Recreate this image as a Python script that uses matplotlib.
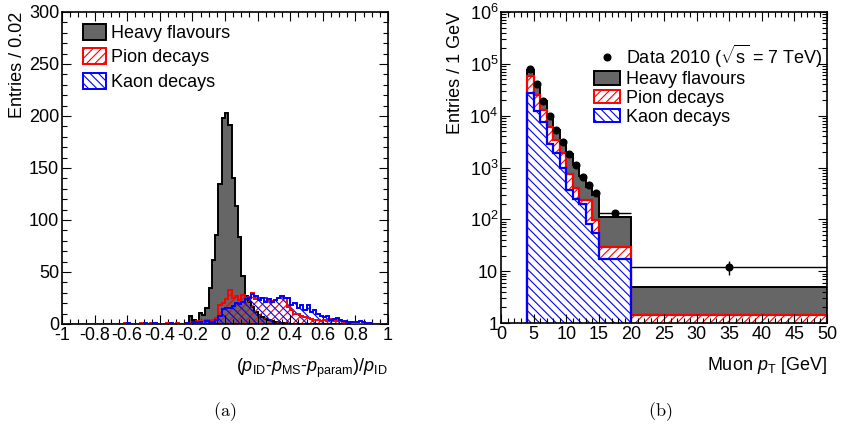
import numpy as np
import matplotlib
matplotlib.use("Agg")
import matplotlib.pyplot as plt
from matplotlib.patches import Patch
from matplotlib.lines import Line2D
from matplotlib.ticker import MultipleLocator, FuncFormatter, LogLocator, FixedLocator, FixedFormatter, NullFormatter

plt.rcParams["font.family"] = ["Liberation Sans", "DejaVu Sans"]
plt.rcParams["font.size"] = 13
plt.rcParams["axes.unicode_minus"] = False
plt.rcParams["mathtext.fontset"] = "custom"
plt.rcParams["mathtext.rm"] = "Liberation Sans"
plt.rcParams["mathtext.it"] = "Liberation Sans:italic"
plt.rcParams["hatch.linewidth"] = 0.8

# (a) momentum imbalance, 100 bins of 0.02 from -1 to 1
edges_a = np.linspace(-1, 1, 101)
heavy_a = [0, 0, 0, 0, 0, 0, 0, 0, 0, 0,
           0, 0, 0, 0, 0, 0, 0, 0, 0, 0,
           0, 0, 0, 0, 0, 0, 0, 0, 0, 0,
           0, 0, 0, 0, 0, 0, 0, 0, 1, 8,
           4, 2, 11, 9, 15, 35, 62, 86, 135, 198,
           203, 191, 140, 113, 84, 46, 27, 21, 16, 12,
           9, 7, 5, 4, 3, 2, 2, 1, 1, 0,
           0, 0, 0, 0, 0, 0, 0, 0, 0, 0,
           0, 0, 0, 0, 0, 0, 0, 0, 0, 0,
           0, 0, 0, 0, 0, 0, 0, 0, 0, 0]
pion_a = [0, 0, 0, 0, 0, 0, 0, 0, 0, 0,
          0, 0, 0, 0, 0, 0, 0, 0, 0, 1,
          0, 0, 0, 0, 1, 0, 0, 1, 0, 0,
          0, 0, 1, 0, 0, 1, 0, 0, 0, 1,
          2, 3, 2, 3, 4, 3, 4, 6, 18, 20,
          24, 33, 25, 27, 23, 28, 24, 26, 30, 24,
          25, 25, 25, 22, 22, 23, 25, 26, 25, 16,
          13, 10, 10, 8, 7, 6, 5, 4, 4, 3,
          4, 3, 5, 3, 4, 3, 2, 2, 2, 1,
          1, 0, 1, 0, 0, 0, 0, 0, 0, 0]
kaon_a = [0, 0, 0, 0, 0, 0, 0, 0, 0, 0,
          0, 0, 0, 0, 0, 0, 0, 0, 0, 0,
          1, 0, 0, 0, 0, 1, 0, 0, 1, 0,
          0, 0, 0, 1, 0, 0, 0, 0, 1, 0,
          2, 0, 2, 0, 3, 2, 2, 4, 8, 14,
          15, 15, 17, 20, 19, 21, 24, 25, 29, 27,
          23, 25, 21, 24, 21, 23, 25, 27, 25, 25,
          18, 20, 15, 18, 13, 18, 12, 13, 10, 8,
          7, 8, 4, 5, 6, 4, 3, 2, 2, 2,
          2, 3, 2, 1, 1, 0, 0, 0, 0, 0]

# (b) muon pT, stacked components
edges_b = [4, 5, 6, 7, 8, 9, 10, 11, 12, 13, 14, 15, 20, 50]
kaon_b = [27000, 12500, 7400, 2900, 1900, 1000, 360, 250, 200, 83, 55, 17, 0.3]
pion_b = [30000, 12500, 5600, 3100, 1500, 900, 400, 150, 40, 157, 43, 12, 1.15]
heavy_b = [20000, 14000, 6000, 4000, 1900, 1400, 1040, 700, 440, 180, 192, 81, 3.45]
data_x = [4.5, 5.5, 6.5, 7.5, 8.5, 9.5, 10.5, 11.5, 12.5, 13.5, 14.5, 17.5, 35]
data_y = [79000, 40000, 19500, 9700, 5300, 3100, 1800, 1100, 670, 450, 325, 130, 12]
data_xerr = [0.5] * 11 + [2.5, 15]
data_yerr = [280, 200, 140, 100, 73, 56, 42, 33, 26, 21, 18, 5, 3.5]

GRAY = "#666666"

fig = plt.figure(figsize=(8.41, 4.28), dpi=100)
W, H = 841, 428
ax1 = fig.add_axes([62 / W, 1 - 324 / H, 326 / W, 312 / H])
ax2 = fig.add_axes([501 / W, 1 - 323 / H, 326 / W, 311 / H])

# ---- panel (a)
ax1.stairs(heavy_a, edges_a, fill=True, facecolor=GRAY, edgecolor="none")
ax1.stairs(heavy_a, edges_a, color="black", lw=1.4, baseline=0)
ax1.stairs(pion_a, edges_a, fill=True, facecolor="none", edgecolor="red", hatch="////", lw=0)
ax1.stairs(pion_a, edges_a, color="red", lw=1.4, baseline=0, zorder=3)
ax1.stairs(kaon_a, edges_a, fill=True, facecolor="none", edgecolor="blue", hatch="\\\\\\\\", lw=0)
ax1.stairs(kaon_a, edges_a, color="blue", lw=1.4, baseline=0, zorder=3)

ax1.set_xlim(-1, 1)
ax1.set_ylim(0, 300)
ax1.xaxis.set_major_locator(MultipleLocator(0.2))
ax1.xaxis.set_minor_locator(MultipleLocator(0.05))
ax1.yaxis.set_major_locator(MultipleLocator(50))
ax1.yaxis.set_minor_locator(MultipleLocator(10))
ax1.xaxis.set_major_formatter(FuncFormatter(lambda v, p: f"{round(v, 1) + 0.0:g}"))

leg1 = ax1.legend(
    handles=[Patch(facecolor=GRAY, edgecolor="black", lw=1.4),
             Patch(facecolor="white", edgecolor="red", hatch="////", lw=1.4),
             Patch(facecolor="white", edgecolor="blue", hatch="\\\\\\\\", lw=1.4)],
    labels=["Heavy flavours", "Pion decays", "Kaon decays"],
    loc="upper left", bbox_to_anchor=(0.065, 0.963), frameon=False,
    handlelength=1.25, handleheight=1.0, handletextpad=0.3, labelspacing=0.35,
    borderaxespad=0, borderpad=0)

# ---- panel (b)
bottom = 0.01
stack = np.cumsum([kaon_b, pion_b, heavy_b], axis=0)
ax2.stairs(stack[2], edges_b, fill=True, facecolor=GRAY, edgecolor="none", baseline=bottom)
ax2.stairs(stack[1], edges_b, fill=True, facecolor="white", edgecolor="red", hatch="////", lw=0, baseline=bottom)
ax2.stairs(stack[0], edges_b, fill=True, facecolor="white", edgecolor="blue", hatch="\\\\\\\\", lw=0, baseline=bottom)
ax2.stairs(stack[2], edges_b, color="black", lw=1.4, baseline=bottom)
ax2.stairs(stack[1], edges_b, color="red", lw=1.6, baseline=bottom)
ax2.stairs(stack[0], edges_b, color="blue", lw=1.6, baseline=bottom)
ax2.errorbar(data_x, data_y, xerr=data_xerr, yerr=data_yerr, fmt="o", color="black",
             ms=4.8, lw=1, capsize=0, zorder=4)

ax2.set_xlim(0, 50)
ax2.set_yscale("log")
ax2.set_ylim(1, 1e6)
ax2.xaxis.set_major_locator(MultipleLocator(5))
ax2.xaxis.set_minor_locator(MultipleLocator(1))
ax2.yaxis.set_major_locator(FixedLocator([1, 10, 1e2, 1e3, 1e4, 1e5, 1e6]))
ax2.yaxis.set_major_formatter(FixedFormatter(["1", "10", r"$10^{2}$", r"$10^{3}$",
                                               r"$10^{4}$", r"$10^{5}$", r"$10^{6}$"]))
ax2.yaxis.set_minor_locator(LogLocator(base=10, subs=np.arange(2, 10), numticks=20))
ax2.yaxis.set_minor_formatter(NullFormatter())

leg2 = ax2.legend(
    handles=[Line2D([], [], marker="o", color="black", ls="none", ms=4.8),
             Patch(facecolor=GRAY, edgecolor="black", lw=1.4),
             Patch(facecolor="white", edgecolor="red", hatch="////", lw=1.4),
             Patch(facecolor="white", edgecolor="blue", hatch="\\\\\\\\", lw=1.4)],
    labels=[r"Data 2010 ($\sqrt{\mathrm{s}}$ = 7 TeV)", "Heavy flavours", "Pion decays", "Kaon decays"],
    loc="upper left", bbox_to_anchor=(0.285, 0.902), frameon=False,
    handlelength=1.45, handleheight=0.75, handletextpad=0.3, labelspacing=0.1,
    borderaxespad=0, borderpad=0)

for ax in (ax1, ax2):
    ax.tick_params(which="both", direction="in", top=True, right=True, width=0.8, labelsize=13)
    ax.tick_params(which="major", length=6.5, pad=2)
    ax.tick_params(which="minor", length=3.3)
    for s in ax.spines.values():
        s.set_linewidth(1.2)

fig.text(18 / W, 1 - 12 / H, "Entries / 0.02", rotation=90, ha="center", va="top", fontsize=13)
fig.text(456 / W, 1 - 12 / H, "Entries / 1 GeV", rotation=90, ha="center", va="top", fontsize=13)
fig.text(388 / W, 1 - 368 / H,
         r"($p_{\mathrm{ID}}$-$p_{\mathrm{MS}}$-$p_{\mathrm{param}}$)/$p_{\mathrm{ID}}$",
         ha="right", va="center", fontsize=13)
fig.text(827 / W, 1 - 366 / H, r"Muon $p_{\mathrm{T}}$ [GeV]", ha="right", va="center", fontsize=13)
fig.text(225 / W, 1 - 412 / H, r"$\mathrm{(a)}$", ha="center", va="center", fontsize=13,
         math_fontfamily="cm")
fig.text(660 / W, 1 - 412 / H, r"$\mathrm{(b)}$", ha="center", va="center", fontsize=13,
         math_fontfamily="cm")

fig.savefig("out.png", dpi=100)
